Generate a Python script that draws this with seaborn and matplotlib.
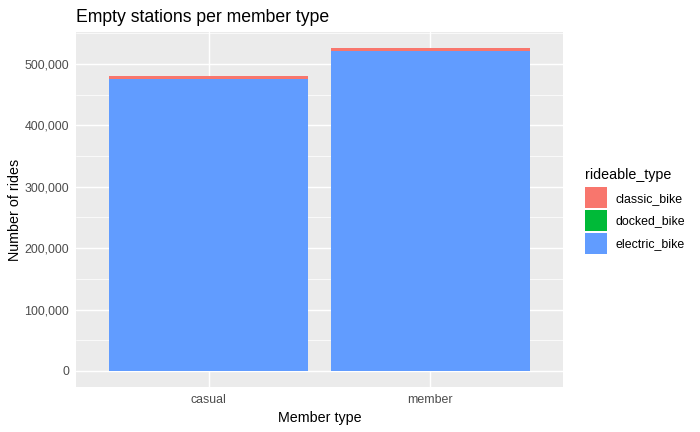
import matplotlib
matplotlib.use("Agg")
import matplotlib.pyplot as plt
from matplotlib.ticker import FuncFormatter, MultipleLocator
import seaborn as sns
import pandas as pd

member_types = ["casual", "member"]
rideable_types = ["classic_bike", "docked_bike", "electric_bike"]
classic_bike = [4900, 4900]
docked_bike = [0, 0]
electric_bike = [475600, 521100]
palette = ["#F8766D", "#00BA38", "#619CFF"]

rows = []
for i, m in enumerate(member_types):
    for t, vals in zip(rideable_types, [classic_bike, docked_bike, electric_bike]):
        rows.append({"member_casual": m, "rideable_type": t, "rides": vals[i]})
df = pd.DataFrame(rows)

sns.set_theme(style="darkgrid")
plt.rcParams["font.family"] = ["Liberation Sans", "DejaVu Sans"]

fig = plt.figure(figsize=(7, 4.32), dpi=100)
fig.patch.set_facecolor("white")
W, H = 700, 432
ax = fig.add_axes([76 / W, 1 - 387 / H, (563 - 76) / W, (387 - 32) / H])
ax.set_facecolor("#EBEBEB")

sns.histplot(data=df, x="member_casual", hue="rideable_type", weights="rides",
             hue_order=rideable_types, palette=palette, multiple="stack",
             discrete=True, shrink=0.9, alpha=1, linewidth=0, ax=ax)

total_max = max(c + d + e for c, d, e in zip(classic_bike, docked_bike, electric_bike))
ax.set_ylim(-0.05 * total_max, 1.05 * total_max)
ax.set_xlim(-0.6, 1.6)
ax.set_xticks([0, 1])
ax.set_xticklabels(member_types)
ax.yaxis.set_major_locator(MultipleLocator(100000))
ax.yaxis.set_minor_locator(MultipleLocator(50000))
ax.yaxis.set_major_formatter(FuncFormatter(lambda v, p: f"{int(v):,}"))

ax.set_axisbelow(True)
ax.grid(which="major", color="white", linewidth=1.02)
ax.grid(which="minor", axis="y", color="white", linewidth=0.51)
ax.grid(which="minor", axis="x", visible=False)
for s in ax.spines.values():
    s.set_visible(False)
ax.tick_params(axis="both", which="major", length=2.65, width=1.02, color="#333333",
               labelcolor="#4D4D4D", labelsize=8.9, pad=2.3)
ax.tick_params(axis="y", which="minor", length=0)
ax.set_xlabel("")
ax.set_ylabel("")

fig.text(76 / W, 1 - 21.5 / H, "Empty stations per member type", fontsize=12.7,
         ha="left", va="baseline", color="black")
fig.text(319.5 / W, 1 - 422.3 / H, "Member type", fontsize=10.3,
         ha="center", va="baseline", color="black")
fig.text(15.5 / W, 1 - 209.5 / H, "Number of rides", fontsize=10.3, rotation=90,
         ha="center", va="center", color="black")
fig.text(585 / W, 1 - 179 / H, "rideable_type", fontsize=10.3,
         ha="left", va="baseline", color="black")

sns.move_legend(ax, loc="upper left", bbox_to_anchor=(585 / W, 1 - 187.3 / H),
                bbox_transform=fig.transFigure, frameon=False, title=None,
                fontsize=8.9, handlelength=1.78,
                handleheight=2.24, labelspacing=0.14, handletextpad=0.70,
                borderpad=0, borderaxespad=0)
leg = ax.get_legend()
for h in leg.legend_handles:
    h.set_linewidth(0)
    h.set_alpha(1)
for t in leg.get_texts():
    t.set_color("black")

fig.savefig("out.png", dpi=100)
